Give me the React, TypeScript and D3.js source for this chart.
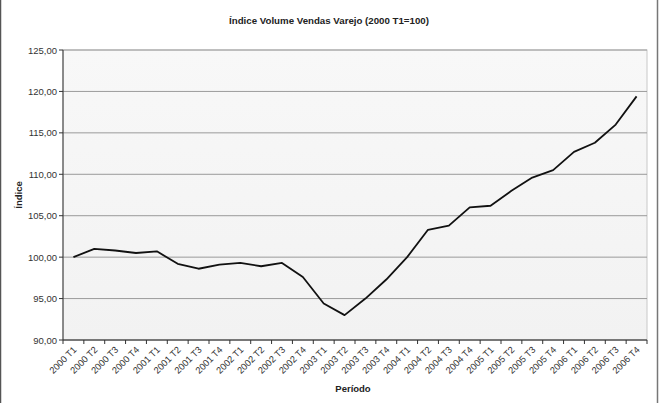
import React from "react";
import * as d3 from "d3";

const periods = [
  "2000 T1","2000 T2","2000 T3","2000 T4",
  "2001 T1","2001 T2","2001 T3","2001 T4",
  "2002 T1","2002 T2","2002 T3","2002 T4",
  "2003 T1","2003 T2","2003 T3","2003 T4",
  "2004 T1","2004 T2","2004 T3","2004 T4",
  "2005 T1","2005 T2","2005 T3","2005 T4",
  "2006 T1","2006 T2","2006 T3","2006 T4",
];
const indexValues = [
  100.0, 101.0, 100.8, 100.5,
  100.7, 99.2, 98.6, 99.1,
  99.3, 98.9, 99.3, 97.6,
  94.4, 93.0, 95.0, 97.3,
  100.0, 103.3, 103.8, 106.0,
  106.2, 108.0, 109.6, 110.5,
  112.7, 113.8, 116.0, 119.4,
];
const yTicks = [90, 95, 100, 105, 110, 115, 120, 125];

const W = 660, H = 403;
const L = 63, R = 647, T = 50, B = 340;
const FONT = "Liberation Sans, Arial, Helvetica, sans-serif";
const txt = { fontFamily: FONT } as React.CSSProperties;

export default function App() {
  const x = d3.scaleBand<string>().domain(periods).range([L, R]);
  const y = d3.scaleLinear().domain([90, 125]).range([B, T]);
  const cx = (p: string) => (x(p) as number) + x.bandwidth() / 2;
  const line = d3.line<number>().x((_, i) => cx(periods[i])).y(v => y(v));
  const fmt = (v: number) => v.toFixed(2).replace(".", ",");
  const boundaries = d3.range(periods.length + 1).map(i => L + i * x.step());

  return (
    <svg width={W} height={H} style={{ position: "absolute", left: 0, top: 0 }}>
      <defs>
        <linearGradient id="bg" x1="0" y1="0" x2="0" y2="1">
          <stop offset="0" stopColor="#f8f8f8" />
          <stop offset="1" stopColor="#f2f2f2" />
        </linearGradient>
      </defs>
      <rect x={0} y={0} width={W} height={H} fill="#fff" />
      <line x1={0.5} y1={0} x2={0.5} y2={H} stroke="#555" strokeWidth={1.5} />
      <line x1={657.5} y1={0} x2={657.5} y2={H} stroke="#777" strokeWidth={1.5} />
      <text x={329} y={23.5} textAnchor="middle" style={txt} fontSize={9.7} fontWeight="bold" fill="#222">
        Índice Volume Vendas Varejo (2000 T1=100)
      </text>
      <rect x={L} y={T} width={R - L} height={B - T} fill="url(#bg)" stroke="#c8c8c8" strokeWidth={1} />
      {yTicks.map(t => (
        <g key={t}>
          <line x1={L} x2={R} y1={y(t)} y2={y(t)} stroke="#9a9a9a" strokeWidth={1} />
          <line x1={L - 4} x2={L} y1={y(t)} y2={y(t)} stroke="#333" strokeWidth={1} />
          <text x={L - 6} y={y(t) + 3.5} textAnchor="end" style={txt} fontSize={9.5} fill="#333">
            {fmt(t)}
          </text>
        </g>
      ))}
      <line x1={L} x2={L} y1={T} y2={B} stroke="#333" strokeWidth={1} />
      <line x1={L} x2={R} y1={B} y2={B} stroke="#333" strokeWidth={1} />
      {boundaries.map((bx, i) => (
        <line key={i} x1={bx} x2={bx} y1={B} y2={B + 4} stroke="#333" strokeWidth={1} />
      ))}
      {periods.map(p => (
        <text key={p} transform={`translate(${cx(p) + 1.5},${B + 8}) rotate(-45)`} textAnchor="end"
          style={txt} fontSize={9.3} fill="#333" dy="0.35em">
          {p}
        </text>
      ))}
      <path d={line(indexValues) || ""} fill="none" stroke="#111" strokeWidth={1.8} strokeLinejoin="round" />
      <text transform={`translate(22,${(T + B) / 2}) rotate(-90)`} textAnchor="middle" style={txt}
        fontSize={9.5} fontWeight="bold" fill="#222">Índice</text>
      <text x={353} y={392} textAnchor="middle" style={txt} fontSize={9.5} fontWeight="bold" fill="#222">
        Período
      </text>
    </svg>
  );
}
